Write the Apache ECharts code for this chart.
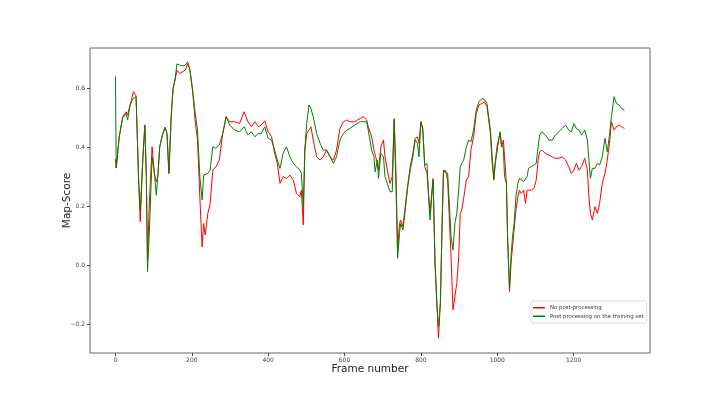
<!DOCTYPE html>
<html>
<head>
<meta charset="utf-8">
<script src="https://cdn.jsdelivr.net/npm/echarts@6/dist/echarts.min.js"></script>
<style>
  html, body { margin: 0; padding: 0; background: #fff; }
  #chart { width: 720px; height: 397px; }
</style>
</head>
<body>
<div id="chart"></div>
<script>
// frame numbers at which the curves were read
var frames = [0, 2, 10, 19, 28, 32, 37, 42, 47, 50, 54, 61, 65, 72, 77, 81, 84, 89, 96, 102,
  107, 111, 116, 123, 130, 135, 140, 146, 151, 156, 161, 168, 177, 183, 189, 195, 202, 209, 215, 221,
  227, 231, 235, 242, 248, 255, 263, 272, 281, 290, 299, 312, 325, 337, 347, 356, 365, 374, 382, 391,
  400, 409, 417, 424, 431, 439, 448, 457, 466, 474, 483, 487, 492, 496, 501, 507, 512, 518, 527, 536,
  544, 553, 562, 571, 579, 588, 597, 606, 614, 627, 641, 649, 658, 662, 671, 677, 680, 686, 689, 695,
  702, 706, 712, 719, 725, 730, 735, 739, 744, 747, 753, 759, 765, 772, 779, 785, 791, 795, 800, 805,
  810, 816, 820, 824, 829, 832, 837, 842, 846, 851, 855, 859, 864, 870, 875, 879, 884, 889, 894, 899,
  903, 907, 912, 919, 925, 931, 938, 945, 952, 960, 966, 973, 982, 986, 991, 995, 1000, 1007, 1011, 1016,
  1019, 1024, 1027, 1032, 1036, 1040, 1044, 1049, 1054, 1058, 1063, 1069, 1074, 1078, 1082, 1089, 1096, 1102, 1107, 1111,
  1117, 1126, 1135, 1144, 1152, 1161, 1170, 1179, 1187, 1194, 1201, 1207, 1214, 1221, 1229, 1236, 1240, 1244, 1249, 1256,
  1262, 1268, 1275, 1282, 1288, 1294, 1299, 1306, 1312, 1319, 1326, 1333];

// "No post-processing"
var noPost = [0.36, 0.33, 0.436, 0.504, 0.521, 0.51, 0.538, 0.56, 0.589, 0.592, 0.575, 0.278, 0.148, 0.368, 0.476, 0.301, 0.018, 0.216, 0.402, 0.312,
  0.284, 0.301, 0.402, 0.442, 0.468, 0.447, 0.312, 0.504, 0.600, 0.628, 0.662, 0.651, 0.657, 0.662, 0.683, 0.664, 0.594, 0.487, 0.425, 0.233,
  0.063, 0.142, 0.103, 0.176, 0.210, 0.323, 0.334, 0.357, 0.447, 0.504, 0.487, 0.487, 0.481, 0.521, 0.487, 0.470, 0.487, 0.470, 0.476, 0.490,
  0.453, 0.436, 0.380, 0.346, 0.278, 0.301, 0.295, 0.306, 0.289, 0.244, 0.233, 0.255, 0.137, 0.391, 0.448, 0.459, 0.470, 0.425, 0.368, 0.357,
  0.368, 0.391, 0.368, 0.357, 0.391, 0.464, 0.487, 0.493, 0.487, 0.487, 0.498, 0.504, 0.493, 0.470, 0.436, 0.391, 0.391, 0.346, 0.323, 0.402,
  0.425, 0.368, 0.323, 0.278, 0.301, 0.498, 0.301, 0.052, 0.142, 0.154, 0.131, 0.199, 0.267, 0.335, 0.380, 0.431, 0.436, 0.414, 0.487, 0.464,
  0.335, 0.312, 0.244, 0.176, 0.255, 0.295, 0.007, -0.129, -0.247, -0.129, 0.108, 0.312, 0.323, 0.289, 0.142, 0.029, -0.151, -0.151, -0.061, 0.029,
  0.176, 0.188, 0.227, 0.289, 0.301, 0.391, 0.436, 0.515, 0.544, 0.549, 0.555, 0.538, 0.448, 0.357, 0.289, 0.357, 0.408, 0.448, 0.402, 0.425,
  0.368, 0.278, 0.097, -0.089, 0.007, 0.063, 0.120, 0.188, 0.233, 0.255, 0.244, 0.255, 0.210, 0.255, 0.261, 0.255, 0.261, 0.289, 0.357, 0.385,
  0.391, 0.380, 0.374, 0.368, 0.363, 0.363, 0.368, 0.357, 0.335, 0.312, 0.323, 0.346, 0.323, 0.335, 0.363, 0.323, 0.233, 0.176, 0.154, 0.199,
  0.176, 0.210, 0.278, 0.312, 0.357, 0.414, 0.487, 0.459, 0.470, 0.476, 0.470, 0.464];

// "Post processing on the training set"
var postTrain = [0.64, 0.33, 0.436, 0.50, 0.515, 0.493, 0.535, 0.555, 0.566, 0.572, 0.572, 0.278, 0.188, 0.368, 0.476, 0.301, -0.021, 0.120, 0.368, 0.312,
  0.238, 0.301, 0.402, 0.442, 0.468, 0.447, 0.312, 0.504, 0.600, 0.628, 0.683, 0.679, 0.676, 0.679, 0.690, 0.664, 0.594, 0.515, 0.459, 0.301,
  0.222, 0.306, 0.306, 0.312, 0.323, 0.402, 0.397, 0.408, 0.447, 0.504, 0.476, 0.459, 0.453, 0.470, 0.442, 0.453, 0.436, 0.447, 0.447, 0.470,
  0.431, 0.425, 0.391, 0.357, 0.329, 0.380, 0.402, 0.368, 0.346, 0.335, 0.323, 0.312, 0.199, 0.391, 0.481, 0.544, 0.532, 0.504, 0.447, 0.414,
  0.391, 0.391, 0.368, 0.346, 0.368, 0.425, 0.447, 0.459, 0.464, 0.476, 0.487, 0.487, 0.487, 0.459, 0.391, 0.368, 0.317, 0.357, 0.295, 0.380,
  0.368, 0.301, 0.278, 0.250, 0.250, 0.493, 0.255, 0.024, 0.108, 0.142, 0.120, 0.188, 0.261, 0.323, 0.368, 0.425, 0.414, 0.368, 0.487, 0.459,
  0.340, 0.346, 0.233, 0.154, 0.244, 0.289, 0.007, -0.140, -0.208, -0.129, 0.108, 0.323, 0.329, 0.312, 0.199, 0.097, 0.052, 0.142, 0.176, 0.255,
  0.335, 0.346, 0.357, 0.402, 0.425, 0.419, 0.459, 0.527, 0.555, 0.566, 0.563, 0.549, 0.459, 0.380, 0.295, 0.346, 0.391, 0.453, 0.414, 0.397,
  0.301, 0.278, 0.097, -0.078, 0.029, 0.097, 0.142, 0.233, 0.278, 0.295, 0.289, 0.284, 0.278, 0.301, 0.329, 0.335, 0.340, 0.346, 0.402, 0.442,
  0.453, 0.442, 0.425, 0.425, 0.442, 0.453, 0.464, 0.476, 0.459, 0.453, 0.481, 0.464, 0.459, 0.442, 0.459, 0.425, 0.357, 0.295, 0.329, 0.329,
  0.346, 0.340, 0.368, 0.431, 0.385, 0.442, 0.504, 0.572, 0.549, 0.544, 0.532, 0.526];

var xTicks = [0, 200, 400, 600, 800, 1000, 1200];
var yTicks = [-0.2, 0.0, 0.2, 0.4, 0.6];

function pairs(xs, ys) {
  var out = [];
  for (var i = 0; i < xs.length; i++) {
    out.push([xs[i], ys[i]]);
  }
  return out;
}

var chart = echarts.init(document.getElementById('chart'), null, { renderer: 'canvas' });

var tickLabel = { fontFamily: 'DejaVu Sans', fontSize: 6, color: '#444' };

var option = {
  animation: false,
  backgroundColor: '#fff',
  grid: {
    left: 90, right: 70, top: 48, bottom: 44,
    show: true, borderColor: '#666', borderWidth: 1
  },
  legend: {
    orient: 'vertical',
    left: 531, top: 301,
    padding: [3, 3, 3, 2],
    itemGap: 1,
    itemWidth: 12, itemHeight: 1.5,
    icon: 'rect',
    backgroundColor: '#fff',
    borderColor: '#ddd', borderWidth: 1, borderRadius: 2,
    textStyle: { fontFamily: 'DejaVu Sans', fontSize: 5.4, color: '#333', lineHeight: 7.5, padding: [0, 0, 0, 0] },
    data: ['No post-processing', 'Post processing on the training set']
  },
  xAxis: {
    type: 'value',
    min: -66.6, max: 1400,
    name: 'Frame number',
    nameLocation: 'middle',
    nameGap: 11,
    nameMoveOverlap: false,
    nameTextStyle: { fontFamily: 'DejaVu Sans', fontSize: 10.5, color: '#222', verticalAlign: 'top' },
    axisLine: { show: false, onZero: false },
    axisTick: { show: true, length: 3, lineStyle: { color: '#444' }, customValues: xTicks },
    axisLabel: Object.assign({ margin: 4, customValues: xTicks, formatter: function (v) { return String(v); } }, tickLabel),
    splitLine: { show: false }
  },
  yAxis: {
    type: 'value',
    min: -0.297, max: 0.737,
    name: 'Map-Score',
    nameLocation: 'middle',
    nameGap: 17,
    nameMoveOverlap: false,
    nameRotate: 90,
    nameTextStyle: { fontFamily: 'DejaVu Sans', fontSize: 10.5, color: '#222' },
    axisLine: { show: false, onZero: false },
    axisTick: { show: true, length: 3, lineStyle: { color: '#444' }, customValues: yTicks },
    axisLabel: Object.assign({ margin: 5, customValues: yTicks, formatter: function (v) {
      var s = v.toFixed(1);
      return s.charAt(0) === '-' ? '\u2212' + s.slice(1) : s;
    } }, tickLabel),
    splitLine: { show: false }
  },
  series: [
    {
      name: 'No post-processing',
      type: 'line',
      data: pairs(frames, noPost),
      showSymbol: false,
      lineStyle: { color: '#ff0000', width: 1 },
      itemStyle: { color: '#ff0000' }
    },
    {
      name: 'Post processing on the training set',
      type: 'line',
      data: pairs(frames, postTrain),
      showSymbol: false,
      lineStyle: { color: '#008000', width: 1 },
      itemStyle: { color: '#008000' }
    }
  ]
};
chart.setOption(option);
</script>
</body>
</html>
